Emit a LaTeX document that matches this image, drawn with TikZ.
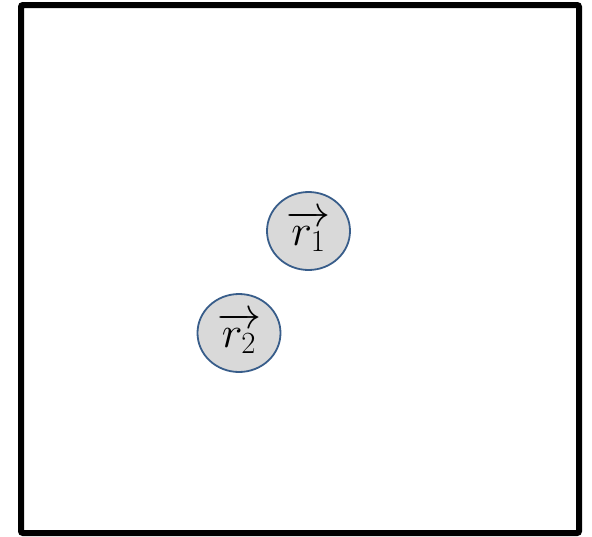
\RequirePackage{fix-cm}
\documentclass[tikz,border=0pt]{standalone}
\usepackage{amsmath}
\usepackage{tikz}
\usetikzlibrary{shapes.geometric}
\definecolor{ballblue}{RGB}{56, 93, 138}
\definecolor{ballgray}{RGB}{217, 217, 217}

\begin{document}
\begin{tikzpicture}[x=1pt, y=1pt,
    ball/.style={ellipse, draw=ballblue, line width=1.8pt, fill=ballgray,
      minimum width=83pt, minimum height=78pt, inner sep=0pt,
      font=\fontsize{44}{52}\selectfont}]
  \useasboundingbox (0,0) rectangle (592,-536);
  \draw[line width=6pt, rounded corners=2pt] (21,-5) rectangle (579,-533);
  \node[ball] (r1) at (308.5,-231) {$\overrightarrow{r_1}$};
  \node[ball] (r2) at (239,-333) {$\overrightarrow{r_2}$};
\end{tikzpicture}
\end{document}
